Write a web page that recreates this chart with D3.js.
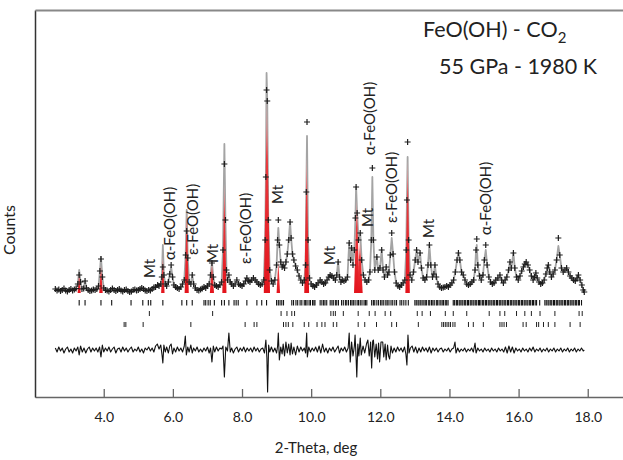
<!DOCTYPE html>
<html><head><meta charset="utf-8">
<script src="https://cdn.jsdelivr.net/npm/d3@7"></script>
<style>
body{margin:0;background:#fff}
svg{display:block}
text{font-family:Lato,"Open Sans",sans-serif;fill:#222}
</style>
</head><body>
<svg id="c" width="623" height="460"></svg>
<script>
// [2-theta, observed counts, calculated counts (only where it differs)]
const observed = [
[2.60,210],[2.65,195],[2.70,205],[2.75,190],[2.80,200],[2.85,215],[2.90,195],[2.95,185],[3.00,200],[3.05,210],[3.10,195],[3.15,205],[3.20,215],[3.25,260],[3.29,350,400],[3.33,280],[3.37,210],[3.42,215],[3.46,290],[3.50,220],[3.55,200],[3.60,190],[3.65,195],[3.70,205],[3.75,200],[3.80,210],[3.85,240],[3.89,390],[3.92,510,530],[3.96,330],[4.00,220],
[4.05,200],[4.10,195],[4.15,185],[4.20,200],[4.25,215],[4.30,200],[4.35,190],[4.40,200],[4.45,210],[4.50,195],[4.55,185],[4.60,200],[4.65,205],[4.70,190],[4.75,180],[4.80,185],[4.85,200],[4.90,205],[4.95,195],[5.00,200],[5.05,210],[5.10,220],[5.15,210],[5.20,195],[5.25,190],[5.30,200],[5.35,195],[5.40,210],[5.45,225],[5.50,230],[5.56,250],[5.60,240],[5.65,260],[5.68,330],[5.71,430,650],[5.74,350],[5.78,260],[5.82,240],[5.87,280],[5.91,360],[5.95,450,430],[5.99,330],
[6.03,250],[6.08,230],[6.13,220],[6.18,210],[6.23,230],[6.28,260],[6.33,300],[6.37,550],[6.40,790,1000],[6.43,520],[6.47,280],[6.52,260],[6.56,350],[6.60,260],[6.65,220],[6.70,200],[6.75,195],[6.80,205],[6.85,215],[6.90,230],[6.95,220],[7.00,240],[7.05,260],[7.09,350],[7.13,470,480],[7.17,330],[7.21,250],[7.26,240],[7.31,230],[7.36,250],[7.41,280],[7.45,600],[7.49,1460,1660],[7.52,900],[7.55,400],[7.58,300],[7.62,350],[7.66,280],[7.70,260],[7.75,240],[7.80,260],[7.85,300],[7.90,260],[7.95,250],
[8.00,240],[8.05,260],[8.10,290],[8.14,320],[8.18,290],[8.23,280],[8.28,300],[8.33,320],[8.38,300],[8.43,280],[8.48,260],[8.53,250],[8.58,260],[8.63,300],[8.67,700],[8.69,1330],[8.71,2200,2370],[8.73,2090],[8.76,900],[8.80,400],[8.85,290],[8.90,260],[8.95,300],[9.00,450],[9.03,700],[9.05,900,820],[9.08,650],[9.12,480],[9.16,430],[9.19,450],[9.23,420],[9.27,480],[9.31,560],[9.35,700],[9.39,880],[9.42,720],[9.46,560],[9.50,500],[9.55,440],[9.60,400],[9.65,340],[9.70,300],[9.75,270],[9.80,300],[9.84,450],[9.86,1180],[9.88,1880,1740],[9.91,700],[9.95,320],
[10.00,260],[10.05,240],[10.10,230],[10.15,250],[10.20,270],[10.26,300],[10.31,280],[10.36,260],[10.41,270],[10.46,300],[10.51,330],[10.55,350],[10.60,340],[10.65,320],[10.70,300],[10.74,350],[10.78,480],[10.82,330],[10.86,280],[10.90,300],[10.95,290],[11.00,300],[11.05,330],[11.10,670],[11.14,500],[11.17,620],[11.21,450],[11.25,600],[11.28,920],[11.30,1230],[11.33,970],[11.37,700],[11.42,770],[11.46,500],[11.51,350],[11.56,300],[11.61,280],[11.66,300],[11.70,380],[11.74,700],[11.77,1420,1330],[11.80,700],[11.84,400],[11.90,530],[11.94,400],[11.99,420],
[12.04,600],[12.08,400],[12.12,330],[12.17,430],[12.21,350],[12.25,380],[12.29,550],[12.33,770,720],[12.37,560],[12.41,380],[12.46,270],[12.51,240],[12.56,230],[12.61,250],[12.66,270],[12.71,300],[12.75,600],[12.77,1100],[12.79,1680,1530],[12.82,700],[12.86,350],[12.91,300],[12.96,380],[13.01,500],[13.05,600],[13.09,480],[13.15,570],[13.19,420],[13.24,320],[13.29,300],[13.34,330],[13.38,450],[13.42,650],[13.46,450],[13.51,330],[13.55,360],[13.58,450],[13.62,330],[13.67,260],[13.72,230],[13.77,220],[13.82,225],[13.87,230],[13.92,240],[13.97,230],
[14.02,250],[14.07,270],[14.12,300],[14.17,380],[14.22,500],[14.26,570],[14.30,500],[14.35,380],[14.40,350],[14.45,300],[14.50,260],[14.55,250],[14.60,260],[14.65,280],[14.70,300],[14.74,400],[14.77,600],[14.79,710,650],[14.82,450],[14.87,340],[14.92,300],[14.97,350],[15.01,500],[15.05,650,600],[15.09,450],[15.14,330],[15.19,280],[15.24,260],[15.29,270],[15.34,300],[15.40,320],[15.46,350],[15.51,300],[15.56,270],[15.61,300],[15.66,330],[15.71,400],[15.75,480],[15.79,420],[15.85,570],[15.89,420],[15.94,330],[15.99,300],
[16.04,340],[16.09,390],[16.14,430],[16.18,460],[16.22,480],[16.27,450],[16.32,400],[16.37,340],[16.42,300],[16.46,330],[16.50,370],[16.54,320],[16.59,280],[16.64,260],[16.69,270],[16.74,300],[16.79,360],[16.83,420],[16.86,450],[16.90,380],[16.95,330],[17.00,360],[17.05,400],[17.10,500],[17.15,720,640],[17.19,550],[17.24,420],[17.29,380],[17.34,400],[17.39,420],[17.44,380],[17.49,340],[17.54,320],[17.59,300],[17.64,290],[17.69,320],[17.73,350],[17.78,300],[17.83,250],[17.87,200],[17.90,180]
];

// highlighted (red) reflections: [2-theta, peak counts, half width]
const redPeaks = [
[3.29,370,0.045],[3.92,450,0.05],[5.71,530,0.05],[6.40,980,0.06],[7.13,470,0.06],[7.49,1270,0.06],
[8.72,2100,0.09],[9.05,500,0.05],[9.87,1530,0.07],[11.32,1100,0.08],[11.41,700,0.08],[12.79,1500,0.065]
];

// difference curve: [2-theta, obs - calc]
const difference = [
[2.60,20],[2.65,-20],[2.70,30],[2.75,-10],[2.80,20],[2.85,-30],[2.90,10],[2.95,30],[3.00,-20],[3.05,10],[3.10,-30],[3.15,20],[3.20,-10],[3.25,30],[3.29,-50],[3.33,40],[3.38,-20],[3.43,20],[3.48,-30],[3.53,10],[3.58,30],[3.63,-20],[3.68,20],[3.73,-10],[3.78,20],[3.83,-20],[3.88,30],[3.92,-70],[3.96,50],[4.00,-20],
[4.05,20],[4.10,-10],[4.15,30],[4.20,-20],[4.25,10],[4.30,30],[4.35,-30],[4.40,10],[4.45,20],[4.50,-20],[4.55,30],[4.60,-10],[4.65,20],[4.70,-20],[4.75,10],[4.80,30],[4.85,-20],[4.90,10],[4.95,-10],[5.00,30],[5.05,-20],[5.10,10],[5.15,-30],[5.20,20],[5.25,0],[5.30,30],[5.35,-10],[5.40,20],[5.45,-20],[5.50,40],[5.55,60],[5.60,10],[5.65,50],[5.69,-60],[5.71,-130],[5.74,50],[5.78,-20],[5.82,30],[5.87,-30],[5.91,40],[5.95,60],[5.99,-40],
[6.03,20],[6.08,-20],[6.13,30],[6.18,-10],[6.23,20],[6.28,-20],[6.33,40],[6.36,140],[6.39,-50],[6.43,30],[6.47,-20],[6.52,50],[6.56,-30],[6.60,20],[6.65,-10],[6.70,30],[6.75,-20],[6.80,10],[6.85,-20],[6.90,20],[6.95,-10],[7.00,30],[7.05,-30],[7.09,20],[7.13,-120],[7.17,40],[7.21,-20],[7.26,30],[7.31,-10],[7.36,20],[7.41,10],[7.45,40],[7.49,-270],[7.53,30],[7.58,-10],[7.62,170],[7.66,-20],[7.70,20],[7.75,-30],[7.80,10],[7.85,30],[7.90,-20],[7.95,20],
[8.00,-10],[8.05,30],[8.10,-20],[8.15,20],[8.20,-10],[8.25,20],[8.30,-20],[8.35,30],[8.40,-10],[8.45,20],[8.50,-20],[8.55,10],[8.60,20],[8.65,-30],[8.69,100],[8.72,-80],[8.74,-420],[8.77,50],[8.80,-20],[8.85,30],[8.90,-20],[8.95,20],[9.00,-30],[9.03,40],[9.05,170],[9.08,-100],[9.12,30],[9.16,-40],[9.19,60],[9.23,-60],[9.27,80],[9.31,-30],[9.35,60],[9.39,-50],[9.42,70],[9.46,-40],[9.50,30],[9.55,-50],[9.60,40],[9.65,-20],[9.70,30],[9.75,-10],[9.80,20],[9.84,-30],[9.87,170],[9.89,-70],[9.93,30],[9.98,-20],
[10.03,20],[10.08,-10],[10.13,30],[10.18,-20],[10.23,40],[10.28,-30],[10.33,60],[10.38,-20],[10.43,20],[10.48,-30],[10.53,20],[10.58,-10],[10.63,30],[10.68,-20],[10.73,10],[10.78,40],[10.82,-30],[10.87,20],[10.92,-10],[10.97,30],[11.02,-20],[11.07,20],[11.10,170],[11.13,-120],[11.17,80],[11.21,-60],[11.25,40],[11.27,150],[11.30,-80],[11.32,-270],[11.35,60],[11.38,-60],[11.42,120],[11.45,-50],[11.50,40],[11.55,-30],[11.60,60],[11.64,100],[11.68,-60],[11.72,80],[11.75,-180],[11.78,90],[11.80,100],[11.84,-70],[11.88,60],[11.92,-90],[11.95,70],[11.98,-120],
[12.02,80],[12.07,80],[12.10,-70],[12.14,60],[12.17,-100],[12.21,50],[12.24,-60],[12.27,-90],[12.31,40],[12.35,-30],[12.40,20],[12.45,-20],[12.50,30],[12.55,-10],[12.60,20],[12.65,-20],[12.70,30],[12.74,-40],[12.77,-150],[12.80,150],[12.83,-30],[12.87,20],[12.92,40],[12.97,-20],[13.02,30],[13.07,-30],[13.12,20],[13.17,-20],[13.22,30],[13.27,-10],[13.32,20],[13.37,-20],[13.42,30],[13.47,-30],[13.52,20],[13.57,-10],[13.62,20],[13.67,-20],[13.72,10],[13.77,20],[13.82,-20],[13.87,10],[13.92,-10],[13.97,20],
[14.02,-20],[14.07,10],[14.12,20],[14.16,80],[14.19,-30],[14.24,20],[14.29,-20],[14.34,10],[14.39,-10],[14.44,20],[14.49,-20],[14.54,10],[14.59,-10],[14.64,20],[14.69,-20],[14.74,70],[14.77,-30],[14.82,20],[14.87,-10],[14.92,10],[14.97,-20],[15.02,20],[15.07,-10],[15.12,10],[15.17,-20],[15.22,20],[15.27,-10],[15.32,10],[15.37,-20],[15.42,20],[15.47,-10],[15.52,10],[15.57,-20],[15.62,30],[15.67,-30],[15.72,40],[15.77,-20],[15.82,30],[15.87,-30],[15.92,20],[15.97,-10],
[16.02,10],[16.07,-20],[16.12,20],[16.17,-10],[16.22,10],[16.27,-20],[16.32,20],[16.37,-10],[16.42,30],[16.47,-20],[16.52,10],[16.57,-10],[16.62,20],[16.67,-20],[16.72,10],[16.77,-10],[16.82,20],[16.87,-20],[16.92,10],[16.97,-10],[17.02,20],[17.07,-20],[17.12,10],[17.17,-10],[17.22,20],[17.27,-20],[17.32,10],[17.37,-10],[17.42,20],[17.47,-20],[17.52,10],[17.57,-10],[17.62,20],[17.67,-20],[17.72,10],[17.77,-10],[17.82,20],[17.87,-10],[17.90,0]
];

// reflection positions of the three phases (2-theta)
const phase1Ticks = [3.29,3.46,3.92,4.23,4.79,5.13,5.29,5.36,5.71,6.26,6.40,6.56,6.90,6.95,7.02,7.08,7.20,7.41,7.49,7.62,7.77,7.83,7.89,8.14,8.43,8.57,8.71,9.00,9.05,9.10,9.15,9.20,
9.44,9.49,9.56,9.61,9.68,9.73,9.80,9.84,9.88,9.94,9.98,10.04,10.08,10.11,10.26,10.31,10.36,10.40,10.45,10.55,10.60,10.64,10.70,10.74,10.79,10.88,10.93,10.99,11.03,11.08,11.14,11.18,11.22,11.27,11.33,11.37,11.42,11.47,11.53,11.57,11.61,
11.75,11.80,11.84,11.90,11.95,12.01,12.05,12.10,12.16,12.20,12.25,12.31,12.36,12.42,12.47,12.57,12.62,12.68,12.74,12.81,13.00,13.04,13.09,13.12,13.17,13.21,13.26,13.30,13.34,13.40,13.43,13.48,13.52,13.56,13.62,13.65,13.70,13.75,13.79,13.83,13.88,13.92,13.96,
14.11,14.15,14.20,14.23,14.28,14.31,14.36,14.39,14.44,14.47,14.52,14.55,14.60,14.63,14.68,14.71,14.76,14.79,14.84,14.87,14.91,14.96,14.99,15.04,15.07,15.12,15.15,15.20,15.23,15.28,15.31,15.36,15.39,15.44,15.47,15.52,15.55,15.60,15.63,15.68,15.71,15.76,15.79,15.84,15.87,15.92,15.95,16.00,16.03,16.08,16.11,16.16,16.19,16.24,16.27,16.32,16.35,16.40,16.43,16.48,16.52,16.61,
16.76,16.80,16.85,16.88,16.93,16.96,17.01,17.04,17.09,17.12,17.17,17.20,17.25,17.28,17.33,17.36,17.41,17.44,17.49,17.52,17.57,17.60,17.65,17.68,17.73,17.76,17.82];
const phase2Ticks = [5.32,7.15,9.13,9.30,9.44,9.52,10.57,10.64,10.70,10.93,11.36,11.68,11.85,12.14,12.30,13.07,13.21,13.45,13.88,14.11,14.50,15.15,15.46,15.60,15.94,16.18,16.37,16.62,17.05,17.75,17.84];
const phase3Ticks = [4.59,4.64,5.14,6.52,8.09,8.35,8.43,9.20,9.27,9.34,9.47,9.80,9.93,10.17,10.31,10.40,10.64,10.74,11.36,11.55,11.89,12.33,12.47,13.10,13.78,13.83,13.88,13.93,13.98,14.03,14.10,14.16,14.55,14.69,14.98,15.46,15.52,15.58,15.65,16.13,16.22,16.52,16.58,16.72,16.86,17.05,17.49,17.78];

// peak annotations: [text, 2-theta, counts at text start]
const annotations = [
["Mt",5.48,320],["α-FeO(OH)",6.05,500],["ε-FeO(OH)",6.74,550],["Mt",7.31,470],["ε-FeO(OH)",8.26,460],
["Mt",9.19,1060],["Mt",10.69,450],["Mt",11.79,830],["α-FeO(OH)",11.84,1550],["ε-FeO(OH)",12.48,870],
["Mt",13.55,720],["α-FeO(OH)",15.20,750]
];
const xTickValues = [4,6,8,10,12,14,16,18];

const svg = d3.select("#c");
const x = d3.scaleLinear().domain([2.012, 19.02]).range([35, 623]);
const y = d3.scaleLinear().domain([-870, 3000]).range([397, 10]);

const defs = svg.append("defs");
const grad = defs.append("linearGradient").attr("id","redg").attr("x1",0).attr("y1",0).attr("x2",0).attr("y2",1);
grad.append("stop").attr("offset","0").attr("stop-color","#f2c4c4");
grad.append("stop").attr("offset","0.3").attr("stop-color","#ea3a3e");
grad.append("stop").attr("offset","1").attr("stop-color","#e3141c");

// frame / axes
const gx = svg.append("g").attr("transform","translate(0,397)")
  .call(d3.axisBottom(x).tickValues(xTickValues).tickFormat(d3.format(".1f")).tickSizeInner(-8).tickSizeOuter(0));
gx.select(".domain").attr("stroke","#666").attr("stroke-width",1.5);
gx.selectAll(".tick line").attr("stroke","#666").attr("stroke-width",1.3);
gx.selectAll(".tick text").attr("y",20).attr("dy","0.35em").style("font-size","14px").style("font-family","Lato,sans-serif").attr("fill","#333");

const gl = svg.append("g").attr("transform","translate(35,0)").call(d3.axisLeft(y).tickValues([]).tickSizeOuter(0));
gl.select(".domain").attr("stroke","#333").attr("stroke-width",1.5);
const gt = svg.append("g").attr("transform","translate(0,10)").call(d3.axisTop(x).tickValues([]).tickSizeOuter(0));
gt.select(".domain").attr("stroke","#888").attr("stroke-width",2);

// calculated profile
const calc = observed.map(d => [d[0], d.length > 2 ? d[2] : d[1]]);
svg.append("path").datum(calc)
  .attr("fill","none").attr("stroke","#a4a4a4").attr("stroke-width",1.8).attr("stroke-linejoin","round")
  .attr("d", d3.line().x(d => x(d[0])).y(d => y(d[1])));

// red reflections
const base = 170;
svg.append("g").selectAll("path").data(redPeaks).join("path")
  .attr("fill","url(#redg)")
  .attr("d", d => `M${x(d[0]-d[2])},${y(base)}L${x(d[0])},${y(d[1])}L${x(d[0]+d[2])},${y(base)}Z`);

// observed crosses
const arm = 3;
svg.append("path")
  .attr("fill","none").attr("stroke","#1e1e1e").attr("stroke-width",1.2)
  .attr("d", observed.map(d => {
    const px = x(d[0]), py = y(d[1]);
    return `M${px-arm},${py}H${px+arm}M${px},${py-arm}V${py+arm}`;
  }).join(""));

// reflection tick rows
const rows = [[phase1Ticks,100,45,1.1,"#111"],[phase2Ticks,-10,-60,1,"#222"],[phase3Ticks,-120,-170,1,"#222"]];
rows.forEach(([ticks,top,bot,w,c]) => {
  svg.append("g").selectAll("line").data(ticks).join("line")
    .attr("x1", d => x(d)).attr("x2", d => x(d))
    .attr("y1", y(top)).attr("y2", y(bot))
    .attr("stroke", c).attr("stroke-width", w);
});

// difference curve
const diffOffset = -400;
svg.append("path").datum(difference)
  .attr("fill","none").attr("stroke","#111").attr("stroke-width",1.1).attr("stroke-linejoin","round")
  .attr("d", d3.line().x(d => x(d[0])).y(d => y(d[1] + diffOffset)));

// annotations
svg.append("g").selectAll("text").data(annotations).join("text")
  .attr("transform", d => `translate(${x(d[1])},${y(d[2])}) rotate(-90)`)
  .style("font-size","15px").attr("fill","#222")
  .text(d => d[0]);

// title
const t1 = svg.append("text").attr("x",423).attr("y",37).style("font-size","21.5px").attr("fill","#222");
t1.append("tspan").text("FeO(OH) - CO");
t1.append("tspan").attr("dy",6).style("font-size","15px").text("2");
svg.append("text").attr("x",439).attr("y",74).style("font-size","21.5px").attr("fill","#222").text("55 GPa - 1980 K");

// axis titles
svg.append("text").attr("transform","translate(15,230) rotate(-90)").attr("text-anchor","middle")
  .style("font-size","16px").attr("fill","#333").text("Counts");
svg.append("text").attr("x",316).attr("y",453).attr("text-anchor","middle")
  .style("font-size","15px").attr("fill","#333").text("2-Theta, deg");
</script>
</body></html>
